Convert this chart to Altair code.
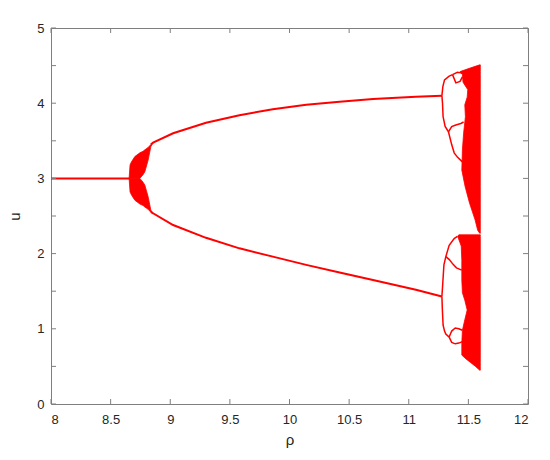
import altair as alt
import pandas as pd

# ---------------- data ----------------
x_ticks = [8, 8.5, 9, 9.5, 10, 10.5, 11, 11.5, 12]
y_ticks = [0, 0.5, 1, 1.5, 2, 2.5, 3, 3.5, 4, 4.5, 5]

# single fixed point
fix_rho = [8.0, 8.661]
fix_u = [3.0, 3.0]

# period-2 branches
p2_rho = [8.837, 8.856, 9.024, 9.30, 9.58, 9.86, 10.14, 10.42, 10.70, 11.06, 11.278]
p2_up = [3.45, 3.475, 3.60, 3.74, 3.84, 3.92, 3.98, 4.02, 4.055, 4.085, 4.10]
p2_lo = [2.56, 2.536, 2.38, 2.21, 2.07, 1.96, 1.85, 1.75, 1.65, 1.52, 1.43]

# period-4 / period-8 branches
uu_rho = [11.278, 11.286, 11.300, 11.339, 11.367]
uu_u = [4.10, 4.22, 4.31, 4.36, 4.38]
uua_rho = [11.367, 11.408, 11.45]
uua_u = [4.38, 4.41, 4.40]
uub_rho = [11.367, 11.395, 11.43, 11.45]
uub_u = [4.38, 4.27, 4.29, 4.35]
ul_rho = [11.278, 11.283, 11.288, 11.305, 11.333]
ul_u = [4.10, 4.0, 3.82, 3.69, 3.62]
ula_rho = [11.333, 11.36, 11.395, 11.437, 11.46]
ula_u = [3.62, 3.69, 3.71, 3.73, 3.75]
ulb_rho = [11.333, 11.36, 11.381, 11.41, 11.437, 11.45]
ulb_u = [3.62, 3.45, 3.34, 3.28, 3.24, 3.22]
lu_rho = [11.278, 11.285, 11.295, 11.311, 11.339, 11.381, 11.408]
lu_u = [1.43, 1.60, 1.85, 1.96, 2.11, 2.20, 2.23]
lub_rho = [11.311, 11.34, 11.37, 11.40, 11.445]
lub_u = [1.96, 1.92, 1.86, 1.81, 1.78]
ll_rho = [11.278, 11.282, 11.288, 11.30, 11.311, 11.339]
ll_u = [1.43, 1.25, 1.05, 0.97, 0.93, 0.89]
lla_rho = [11.339, 11.36, 11.39, 11.42, 11.45]
lla_u = [0.89, 0.97, 1.01, 1.00, 0.98]
llb_rho = [11.339, 11.36, 11.39, 11.42, 11.45]
llb_u = [0.89, 0.82, 0.80, 0.81, 0.83]

# first period-doubling bulge (upper and lower lobes)
lobe_rho = [8.655, 8.663, 8.675, 8.703, 8.745, 8.772, 8.787, 8.814, 8.837, 8.85]
lobeU_lo = [3.0, 3.0, 3.0, 3.0, 3.0, 3.05, 3.09, 3.24, 3.42, 3.46]
lobeU_hi = [3.0, 3.18, 3.22, 3.29, 3.34, 3.36, 3.38, 3.41, 3.45, 3.47]
lobeL_lo = [3.0, 2.82, 2.78, 2.71, 2.66, 2.64, 2.62, 2.59, 2.55, 2.53]
lobeL_hi = [3.0, 3.0, 3.0, 3.0, 3.0, 2.95, 2.91, 2.76, 2.58, 2.54]

# chaotic bands (left edge in rho for each u level, right edge at rho max)
bandU_u = [2.27, 2.31, 2.45, 2.67, 2.89, 3.11, 3.38, 3.60, 3.82, 3.98, 4.08, 4.18, 4.28, 4.38, 4.42, 4.47, 4.51]
bandU_left = [11.595, 11.578, 11.556, 11.51, 11.473, 11.445, 11.45, 11.46, 11.475, 11.47, 11.49, 11.495, 11.455, 11.45, 11.43, 11.52, 11.595]
bandL_u = [0.45, 0.50, 0.55, 0.60, 0.65, 0.81, 0.98, 1.12, 1.25, 1.38, 1.48, 1.65, 1.91, 2.10, 2.23, 2.25]
bandL_left = [11.595, 11.56, 11.52, 11.48, 11.445, 11.445, 11.45, 11.47, 11.49, 11.47, 11.45, 11.445, 11.445, 11.44, 11.41, 11.42]
band_right = 11.6

# ---------------- build tables ----------------
main_segs = [("fix", fix_rho, fix_u), ("p2u", p2_rho, p2_up), ("p2l", p2_rho, p2_lo)]
fine_segs = [
    ("uu", uu_rho, uu_u), ("uua", uua_rho, uua_u), ("uub", uub_rho, uub_u),
    ("ul", ul_rho, ul_u), ("ula", ula_rho, ula_u), ("ulb", ulb_rho, ulb_u),
    ("lu", lu_rho, lu_u), ("lub", lub_rho, lub_u),
    ("ll", ll_rho, ll_u), ("lla", lla_rho, lla_u), ("llb", llb_rho, llb_u),
]


def to_df(segs):
    rows = []
    for name, xs_, ys_ in segs:
        for i, (a, b) in enumerate(zip(xs_, ys_)):
            rows.append({"seg": name, "i": i, "rho": a, "u": b})
    return pd.DataFrame(rows)


main_df = to_df(main_segs)
fine_df = to_df(fine_segs)

lobe_rows = []
for name, lo, hi in [("U", lobeU_lo, lobeU_hi), ("L", lobeL_lo, lobeL_hi)]:
    for a, b, c in zip(lobe_rho, lo, hi):
        lobe_rows.append({"lobe": name, "rho": a, "lo": b, "hi": c})
lobe_df = pd.DataFrame(lobe_rows)

band_rows = []
for name, us, ls in [("U", bandU_u, bandU_left), ("L", bandL_u, bandL_left)]:
    for a, b in zip(us, ls):
        band_rows.append({"band": name, "u": a, "left": b, "right": band_right})
band_df = pd.DataFrame(band_rows)

xt_df = pd.DataFrame({"t": x_ticks})
yt_df = pd.DataFrame({"t": y_ticks})

RED = "#ff0000"
W, H = 477, 376
xs = alt.Scale(domain=[8, 12], nice=False, zero=False)
ys = alt.Scale(domain=[0, 5], nice=False, zero=False)

x_axis = alt.Axis(values=x_ticks, title="ρ", domain=False, tickSize=0, labelPadding=9,
                  labelFontSize=13, labelColor="#262626", labelFont="Liberation Sans",
                  titleFont="Liberation Sans", titleFontSize=15, titleFontWeight="normal",
                  titleColor="#262626", titleY=35, titleBaseline="middle", grid=False,
                  labelExpr="datum.value")
y_axis = alt.Axis(values=y_ticks, title="u", domain=False, tickSize=0, labelPadding=7,
                  labelFontSize=13, labelColor="#262626", labelFont="Liberation Sans",
                  titleFont="Liberation Sans", titleFontSize=15, titleFontWeight="normal",
                  titleColor="#262626", titleX=-37, titleY=H / 2, titleAngle=-90,
                  titleBaseline="middle", grid=False, labelExpr="datum.value")

lines = alt.Chart(main_df).mark_line(color=RED, strokeWidth=2, clip=True).encode(
    x=alt.X("rho:Q", scale=xs, axis=x_axis),
    y=alt.Y("u:Q", scale=ys, axis=y_axis),
    detail="seg:N",
    order="i:Q",
)

fine = alt.Chart(fine_df).mark_line(color=RED, strokeWidth=1.5, clip=True).encode(
    x=alt.X("rho:Q", scale=xs),
    y=alt.Y("u:Q", scale=ys),
    detail="seg:N",
    order="i:Q",
)

lobes = alt.Chart(lobe_df).mark_area(color=RED, opacity=1, orient="vertical",
                                     stroke=RED, strokeWidth=0.8).encode(
    x=alt.X("rho:Q", scale=xs),
    y=alt.Y("lo:Q", scale=ys),
    y2="hi:Q",
    detail="lobe:N",
)

bands = alt.Chart(band_df).mark_area(color=RED, opacity=1, orient="horizontal",
                                     stroke=RED, strokeWidth=0.8).encode(
    y=alt.Y("u:Q", scale=ys),
    x=alt.X("left:Q", scale=xs),
    x2="right:Q",
    detail="band:N",
)

TICK = "#7f7f7f"
tb = alt.Chart(xt_df).mark_rule(color=TICK, strokeWidth=1).encode(
    x=alt.X("t:Q", scale=xs), y=alt.value(H), y2=alt.value(H - 5))
tt = alt.Chart(xt_df).mark_rule(color=TICK, strokeWidth=1).encode(
    x=alt.X("t:Q", scale=xs), y=alt.value(0), y2=alt.value(5))
tl = alt.Chart(yt_df).mark_rule(color=TICK, strokeWidth=1).encode(
    y=alt.Y("t:Q", scale=ys), x=alt.value(0), x2=alt.value(5))
tr = alt.Chart(yt_df).mark_rule(color=TICK, strokeWidth=1).encode(
    y=alt.Y("t:Q", scale=ys), x=alt.value(W), x2=alt.value(W - 5))

chart = alt.layer(lobes, bands, lines, fine, tb, tt, tl, tr).properties(
    width=W, height=H,
    autosize=alt.AutoSizeParams(type="none"),
    padding={"left": 43, "top": 20, "right": 6, "bottom": 44},
    background="white",
).configure_view(stroke=TICK, strokeWidth=1)

chart.save("out.html", embed_options={"renderer": "svg", "actions": False})
